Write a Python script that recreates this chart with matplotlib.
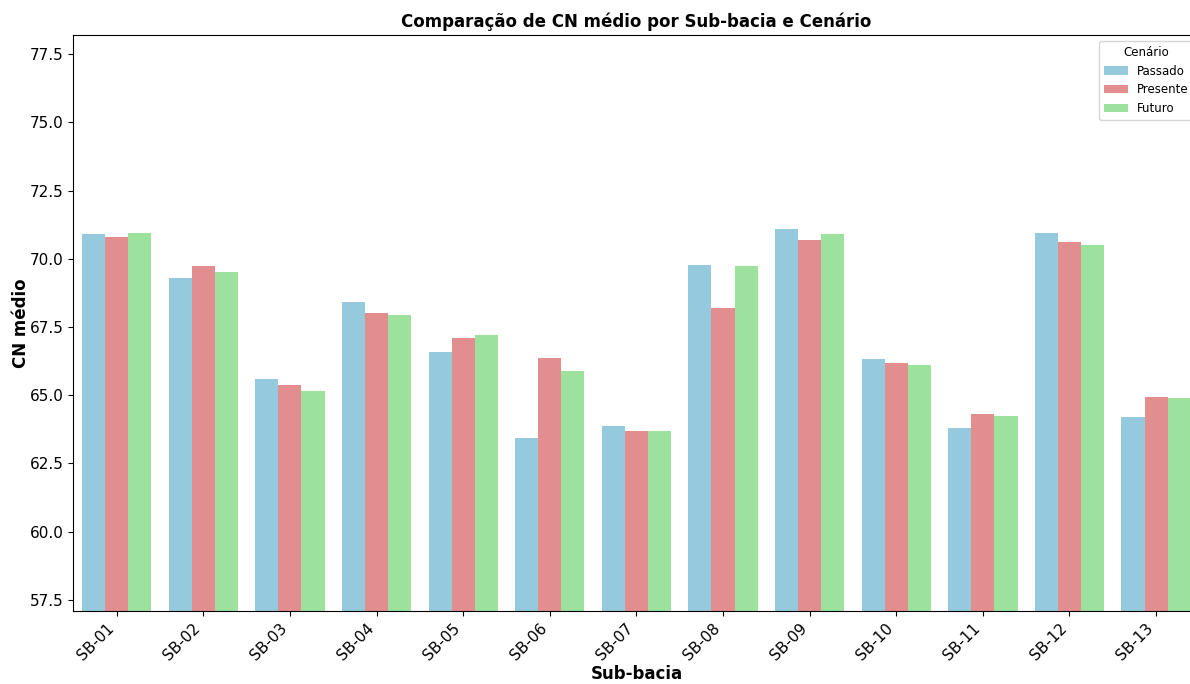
import numpy as np
import pandas as pd
import seaborn as sns
import matplotlib
matplotlib.use("Agg")
import matplotlib.pyplot as plt

sub_bacias = ["SB-01", "SB-02", "SB-03", "SB-04", "SB-05", "SB-06", "SB-07",
              "SB-08", "SB-09", "SB-10", "SB-11", "SB-12", "SB-13"]
cenarios = ["Passado", "Presente", "Futuro"]

passado = [70.89, 69.31, 65.59, 68.43, 66.59, 63.44, 63.88, 69.79, 71.09, 66.33, 63.81, 70.95, 64.21]
presente = [70.81, 69.75, 65.39, 68.01, 67.08, 66.36, 63.70, 68.21, 70.69, 66.18, 64.31, 70.61, 64.94]
futuro = [70.93, 69.53, 65.16, 67.95, 67.20, 65.89, 63.70, 69.72, 70.89, 66.11, 64.24, 70.49, 64.90]

cores = ["skyblue", "lightcoral", "lightgreen"]

# long format for seaborn
df = pd.DataFrame({
    "Sub-bacia": sub_bacias * 3,
    "Cenário": [c for c in cenarios for _ in sub_bacias],
    "CN": passado + presente + futuro,
})

fig = plt.figure(figsize=(11.9, 6.84), dpi=100)
# axes runs a bit past the right edge, as in the reference
ax = fig.add_axes([73.4 / 1190, 73 / 684, 1126 / 1190, 576 / 684])

sns.barplot(data=df, x="Sub-bacia", y="CN", hue="Cenário", palette=cores, ax=ax)

vals = df["CN"]
ax.set_xlim(-0.5, len(sub_bacias) - 0.5)
ax.set_ylim(vals.min() * 0.9, vals.max() * 1.1)

ax.set_title("Comparação de CN médio por Sub-bacia e Cenário", fontsize=12, fontweight="bold")
ax.set_xlabel("Sub-bacia", fontsize=12, fontweight="bold", labelpad=1)
ax.set_ylabel("CN médio", fontsize=12, fontweight="bold", labelpad=0)
ax.tick_params(axis="both", labelsize=11)
plt.setp(ax.get_xticklabels(), rotation=45, ha="right")
ax.legend(title="Cenário", loc="upper right", fontsize=8.5, title_fontsize=8.5)

fig.savefig("out.png", dpi=100)
